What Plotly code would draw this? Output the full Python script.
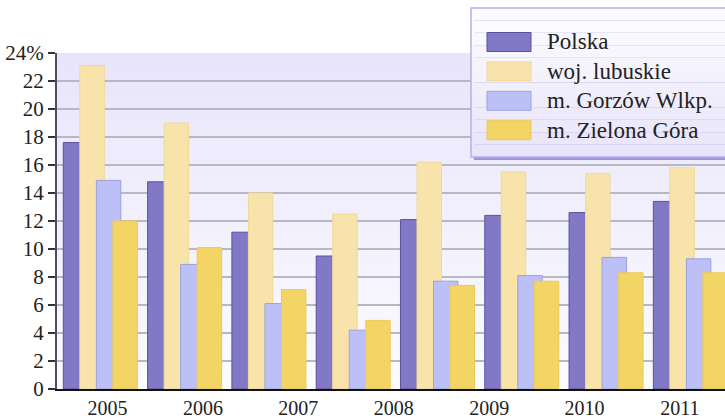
import plotly.graph_objects as go

# data (8 bar groups, 7 year labels as drawn)
series = ["Polska", "woj. lubuskie", "m. Gorzów Wlkp.", "m. Zielona Góra"]
polska = [17.6, 14.8, 11.2, 9.5, 12.1, 12.4, 12.6, 13.4]
lubuskie = [23.1, 19.0, 14.0, 12.5, 16.2, 15.5, 15.4, 15.8]
gorzow = [14.9, 8.9, 6.1, 4.2, 7.7, 8.1, 9.4, 9.3]
zielona = [12.0, 10.1, 7.1, 4.9, 7.4, 7.7, 8.3, 8.3]
years = ["2005", "2006", "2007", "2008", "2009", "2010", "2011"]
y_ticks = list(range(0, 25, 2))
y_labels = [str(v) for v in y_ticks[:-1]] + ["24%"]

fills = ["#8279c6", "#f8e4aa", "#bdc0f7", "#f3d566"]
edges = ["#5a4fa5", "#f0d995", "#99a2dc", "#ecca55"]

W, H = 725, 419
L, T, B = 57, 53, 30
PW, PH = W - L, H - T - B


def px(x, y):
    # pixel position -> paper coords
    return (x - L) / PW, (H - B - y) / PH


groups = list(range(len(polska)))
fig = go.Figure()
for k, (name, vals) in enumerate(zip(series, [polska, lubuskie, gorzow, zielona])):
    fig.add_trace(go.Bar(x=groups, y=vals, name=name, offset=k * 0.196, width=0.29,
                         marker=dict(color=fills[k], line=dict(color=edges[k], width=1)),
                         showlegend=False, hoverinfo="skip"))

shapes = []
# vertical background gradient of the plot area
n = 48
top, bot = (232, 229, 251), (252, 251, 255)
for i in range(n):
    t = i / (n - 1)
    c = tuple(round(top[j] + (bot[j] - top[j]) * t) for j in range(3))
    shapes.append(dict(type="rect", xref="paper", yref="paper", x0=0, x1=1,
                       y0=1 - (i + 1) / n, y1=1 - i / n, line_width=0,
                       fillcolor="rgb(%d,%d,%d)" % c, layer="below"))

# legend box with shadow
x0, y0 = px(474, 160)
x1, y1 = px(740, 11)
shapes.append(dict(type="rect", xref="paper", yref="paper", x0=x0, x1=x1, y0=y0, y1=y1,
                   line_width=0, fillcolor="#9d95dc", layer="above"))
x0, y0 = px(471, 157)
x1, y1 = px(737, 8)
m = 12
ltop, lbot = (252, 252, 255), (232, 229, 250)
for i in range(m):
    t = i / (m - 1)
    c = tuple(round(ltop[j] + (lbot[j] - ltop[j]) * t) for j in range(3))
    shapes.append(dict(type="rect", xref="paper", yref="paper", x0=x0, x1=x1,
                       y0=y1 - (y1 - y0) * (i + 1) / m, y1=y1 - (y1 - y0) * i / m,
                       line_width=0, fillcolor="rgb(%d,%d,%d)" % c, layer="above"))
shapes.append(dict(type="rect", xref="paper", yref="paper", x0=x0, x1=x1, y0=y0, y1=y1,
                   line=dict(color="#b6b0e8", width=1.5), fillcolor="rgba(0,0,0,0)",
                   layer="above"))

annotations = []
for k, name in enumerate(series):
    cy = 42 + 29.4 * k
    sx0, sy0 = px(487, cy + 9.5)
    sx1, sy1 = px(531, cy - 9.5)
    shapes.append(dict(type="rect", xref="paper", yref="paper", x0=sx0, x1=sx1, y0=sy0, y1=sy1,
                       line=dict(color=edges[k], width=1), fillcolor=fills[k], layer="above"))
    tx, ty = px(545, cy)
    annotations.append(dict(xref="paper", yref="paper", x=tx, y=ty, text=name,
                            showarrow=False, xanchor="left", yanchor="middle",
                            font=dict(family="Liberation Serif", size=23, color="#222")))

fig.update_layout(
    width=W, height=H,
    margin=dict(l=L, r=0, t=T, b=B),
    barmode="overlay",
    paper_bgcolor="white", plot_bgcolor="white",
    font=dict(family="Liberation Serif", size=21, color="#222"),
    shapes=shapes, annotations=annotations,
    xaxis=dict(range=[-0.075, 7.85], tickvals=[0.524 + 1.132 * k for k in range(len(years))],
               ticktext=years, showgrid=False, zeroline=False, showline=True,
               linecolor="#111", linewidth=2, ticks="", automargin=False,
               tickfont=dict(size=20), ticklabelstandoff=0),
    yaxis=dict(range=[0, 24], tickvals=y_ticks, ticktext=y_labels, showgrid=True,
               gridcolor="#b8b7c2", gridwidth=1.5, zeroline=False, showline=True,
               linecolor="#4d4b66", linewidth=2, ticks="outside", ticklen=7,
               tickcolor="#333", tickwidth=1.5, automargin=False),
)

# the page's default body margin would shift the fixed-size figure
fig.write_html("out.html", config={"displayModeBar": False},
               post_script="document.body.style.margin='0';")
